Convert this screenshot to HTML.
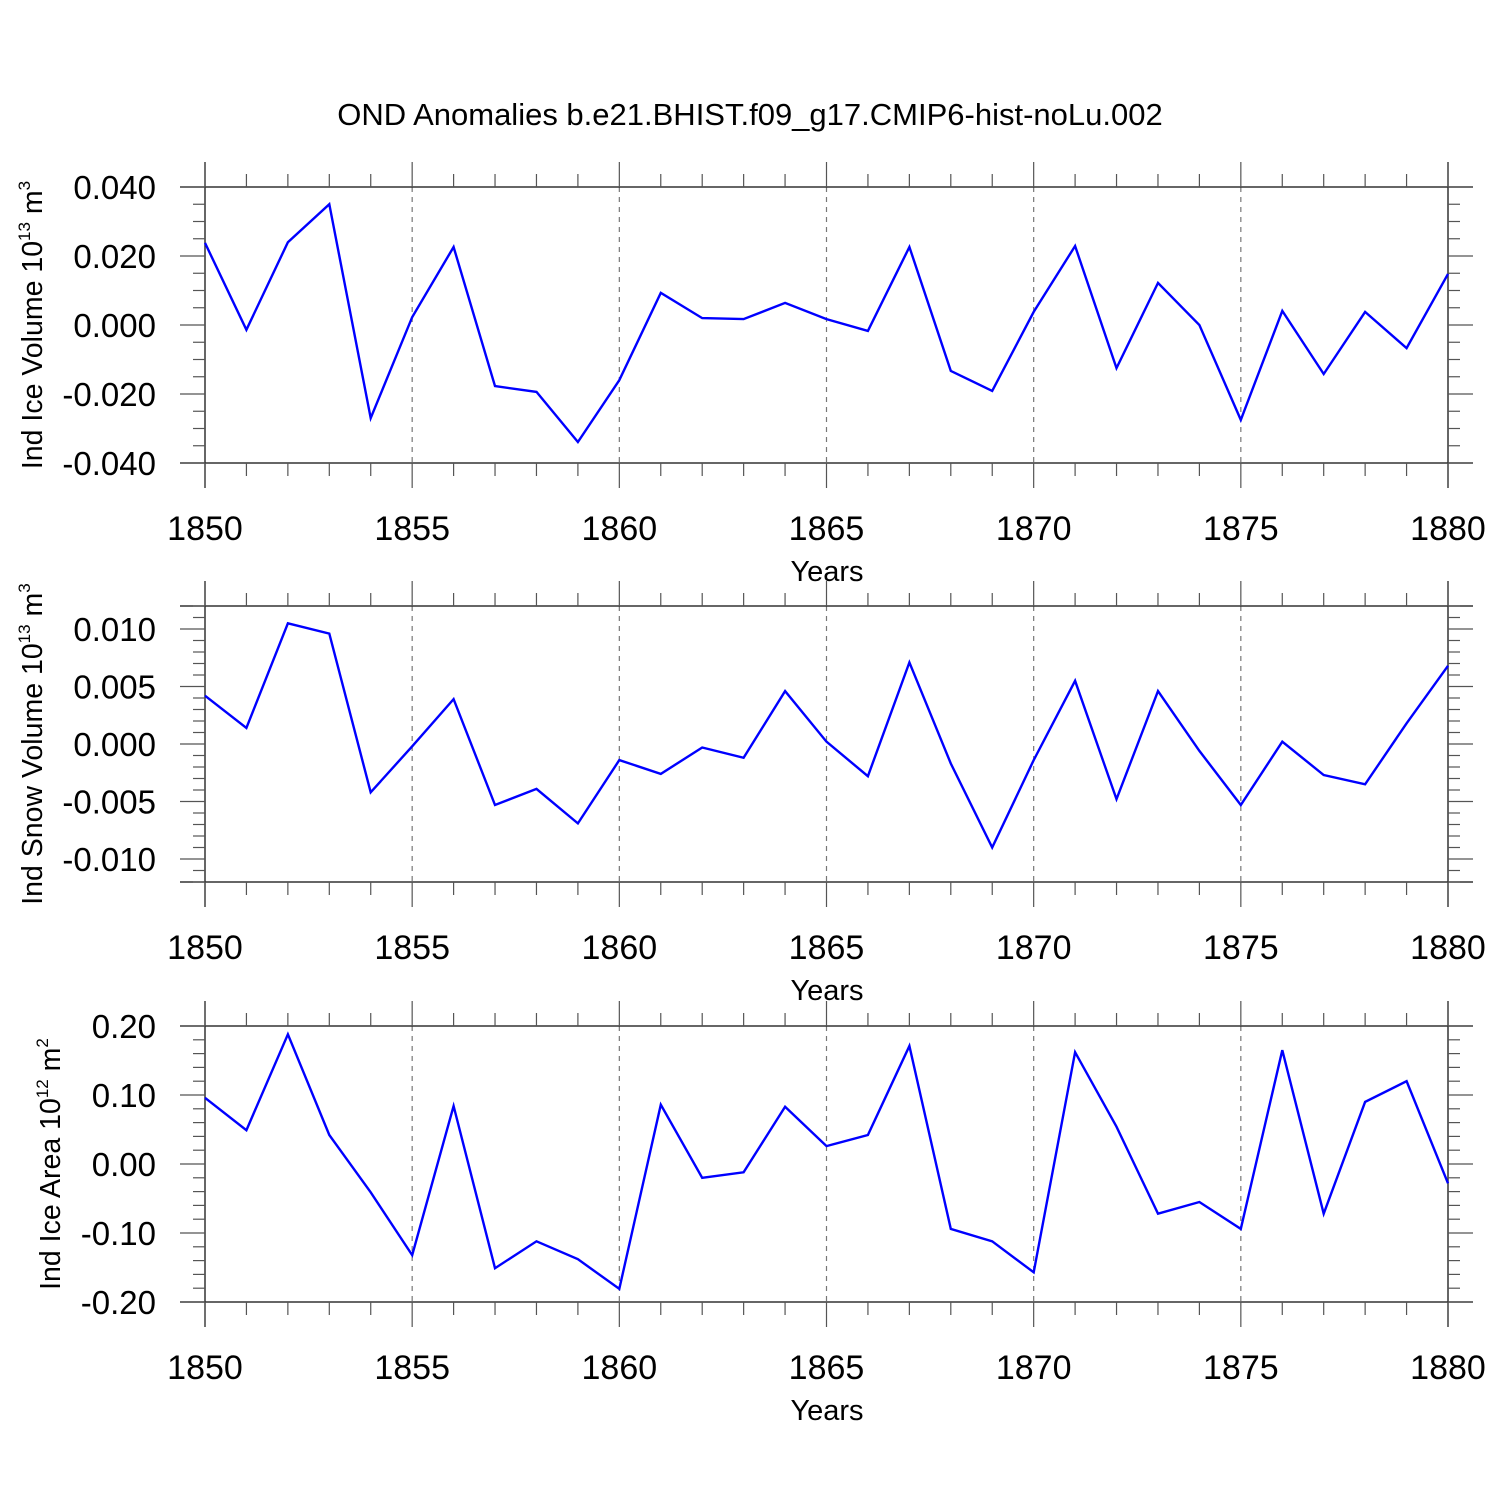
<!DOCTYPE html>
<html><head><meta charset="utf-8">
<style>
html,body{margin:0;padding:0;background:#fff;}
svg{display:block;font-family:"Liberation Sans",sans-serif;}
</style></head>
<body>
<svg id="chart" width="1500" height="1500" viewBox="0 0 1500 1500" xmlns="http://www.w3.org/2000/svg">
<rect width="1500" height="1500" fill="#fff"/>
<text x="750" y="125" font-size="31" text-anchor="middle">OND Anomalies b.e21.BHIST.f09_g17.CMIP6-hist-noLu.002</text>
<g id="panels"></g>
</svg>
<script>
const years = [];
for (let y = 1850; y <= 1880; y++) years.push(y);
const xTickLabels = ["1850","1855","1860","1865","1870","1875","1880"];
const iceVolume = [0.0238,-0.0014,0.024,0.035,-0.027,0.0023,0.0226,-0.0177,-0.0194,-0.0339,-0.016,0.0093,0.002,0.0017,0.0064,0.0017,-0.0017,0.0226,-0.0133,-0.0191,0.0038,0.0229,-0.0125,0.0122,0.0,-0.0275,0.0041,-0.0142,0.0038,-0.0067,0.0148];
const snowVolume = [0.0042,0.0014,0.0105,0.0096,-0.0042,-0.0002,0.0039,-0.0053,-0.0039,-0.0069,-0.0014,-0.0026,-0.0003,-0.0012,0.0046,0.0002,-0.0028,0.0071,-0.0017,-0.009,-0.0014,0.0055,-0.0048,0.0046,-0.0006,-0.0053,0.0002,-0.0027,-0.0035,0.0018,0.0068];
const iceArea = [0.096,0.049,0.188,0.042,-0.041,-0.132,0.084,-0.151,-0.112,-0.138,-0.181,0.086,-0.020,-0.012,0.083,0.026,0.042,0.171,-0.094,-0.112,-0.157,0.162,0.054,-0.072,-0.055,-0.094,0.165,-0.072,0.090,0.120,-0.028];
const iceVolTicks = ["0.040","0.020","0.000","-0.020","-0.040"];
const snowVolTicks = ["0.010","0.005","0.000","-0.005","-0.010"];
const iceAreaTicks = ["0.20","0.10","0.00","-0.10","-0.20"];

const NS = "http://www.w3.org/2000/svg";
const root = document.getElementById("panels");
const X0 = 205, X1 = 1448;
function xs(yr){ return X0 + (yr-1850)/30*(X1-X0); }
function mk(tag, attrs, parent){
  const e = document.createElementNS(NS, tag);
  for (const k in attrs) e.setAttribute(k, attrs[k]);
  (parent||root).appendChild(e); return e;
}
const panels = [
  {name:"ice-volume", data:iceVolume, ticks:iceVolTicks, ymin:-0.04, ymax:0.04, top:187, bot:463, minor:0.005, major:0.02, label:"Ind Ice Volume 10", exp:"13", unit:" m", uexp:"3", labX:42},
  {name:"snow-volume", data:snowVolume, ticks:snowVolTicks, ymin:-0.012, ymax:0.012, top:606, bot:882, minor:0.001, major:0.005, label:"Ind Snow Volume 10", exp:"13", unit:" m", uexp:"3", labX:42},
  {name:"ice-area", data:iceArea, ticks:iceAreaTicks, ymin:-0.2, ymax:0.2, top:1026, bot:1302, minor:0.02, major:0.1, label:"Ind Ice Area 10", exp:"12", unit:" m", uexp:"2", labX:60}
];
panels.forEach(p=>{
  const g = mk("g",{});
  
  
  const ys = v => p.bot - (v-p.ymin)/(p.ymax-p.ymin)*(p.bot-p.top);
  const ext = 25;
  for (let yr=1855; yr<1880; yr+=5){
    mk("line",{x1:xs(yr),x2:xs(yr),y1:p.top,y2:p.bot,stroke:"#777","stroke-width":1.2,"stroke-dasharray":"5,5"},g);
  }
  mk("line",{x1:X0-ext,x2:X1+ext,y1:p.top,y2:p.top,stroke:"#333","stroke-width":1.5},g);
  mk("line",{x1:X0-ext,x2:X1+ext,y1:p.bot,y2:p.bot,stroke:"#333","stroke-width":1.5},g);
  mk("line",{x1:X0,x2:X0,y1:p.top-ext,y2:p.bot+ext,stroke:"#333","stroke-width":1.5},g);
  mk("line",{x1:X1,x2:X1,y1:p.top-ext,y2:p.bot+ext,stroke:"#333","stroke-width":1.5},g);
  years.forEach(yr=>{
    const maj = (yr-1850)%5===0; const L = maj?25:13;
    const x = xs(yr);
    mk("line",{x1:x,x2:x,y1:p.top-L,y2:p.top,stroke:"#555","stroke-width":1.2},g);
    mk("line",{x1:x,x2:x,y1:p.bot,y2:p.bot+L,stroke:"#555","stroke-width":1.2},g);
  });
  xTickLabels.forEach((t,i)=>{
    const tx = mk("text",{x:xs(1850+5*i),y:p.bot+77,"font-size":34,"text-anchor":"middle"},g);
    tx.textContent = t;
    
    
  });
  const xl = mk("text",{x:827,y:p.bot+118,"font-size":29,"text-anchor":"middle"},g);
  xl.textContent="Years";
  
  
  const n = Math.round((p.ymax-p.ymin)/p.minor);
  for (let i=0;i<=n;i++){
    const v = p.ymin + i*p.minor;
    const r = v/p.major;
    const maj = Math.abs(r-Math.round(r))<1e-6 && Math.abs(v)<=p.major*2+1e-9;
    const L = maj?25:12;
    const y = ys(v);
    mk("line",{x1:X0-L,x2:X0,y1:y,y2:y,stroke:"#555","stroke-width":1.2},g);
    mk("line",{x1:X1,x2:X1+L,y1:y,y2:y,stroke:"#555","stroke-width":1.2},g);
  }
  p.ticks.forEach((t,i)=>{
    const v = p.major*2 - i*p.major;
    const tx = mk("text",{x:156,y:ys(v)+12,"font-size":33,"text-anchor":"end"},g);
    tx.textContent=t;
    
    
  });
  const cy=(p.top+p.bot)/2;
  const yl = mk("text",{x:0,y:0,"font-size":28.5,"text-anchor":"middle",transform:`translate(${p.labX},${cy}) rotate(-90)`},g);
  
  
  const a=document.createElementNS(NS,"tspan"); a.textContent=p.label; yl.appendChild(a);
  const b=document.createElementNS(NS,"tspan"); b.setAttribute("dy","-12"); b.setAttribute("font-size","17"); b.textContent=p.exp; yl.appendChild(b);
  const c=document.createElementNS(NS,"tspan"); c.setAttribute("dy","12"); c.textContent=p.unit; yl.appendChild(c);
  const d=document.createElementNS(NS,"tspan"); d.setAttribute("dy","-12"); d.setAttribute("font-size","17"); d.textContent=p.uexp; yl.appendChild(d);
  const pts = p.data.map((v,i)=>xs(years[i]).toFixed(1)+","+ys(v).toFixed(1)).join(" ");
  const line = mk("polyline",{points:pts,fill:"none",stroke:"#0000ff","stroke-width":2.4,"stroke-linejoin":"miter"},g);
  
  
});
</script>
</body></html>
